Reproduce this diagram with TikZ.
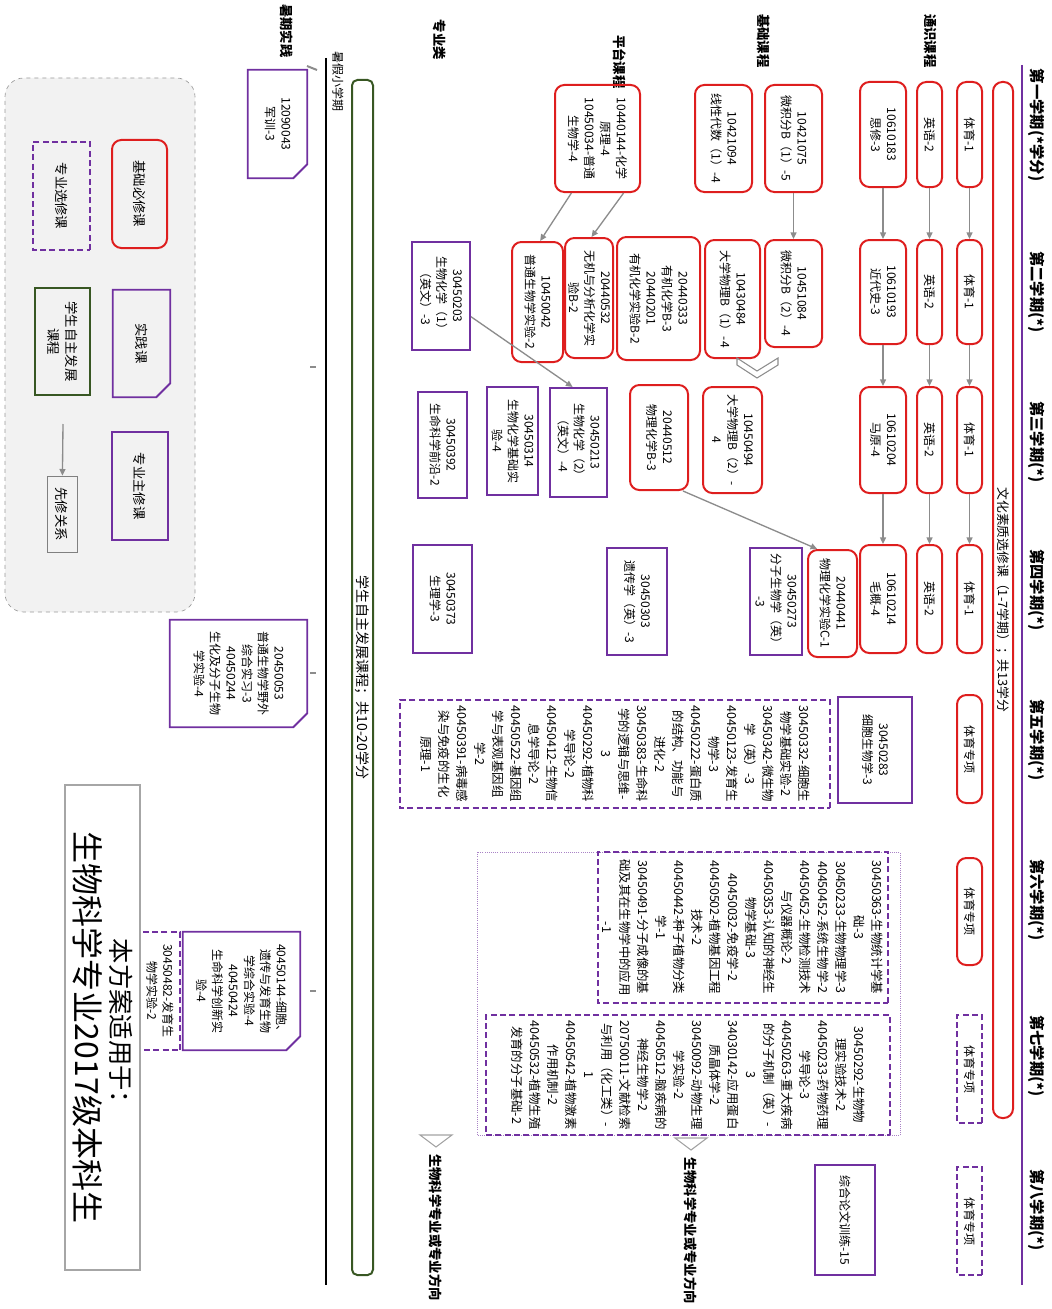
\documentclass[tikz,border=0pt]{standalone}
\usepackage{fontspec}
\setmainfont{Noto Sans CJK SC}
\usetikzlibrary{arrows.meta,calc}
\definecolor{cred}{RGB}{222,30,30}
\definecolor{cpur}{RGB}{112,48,160}
\definecolor{cgrn}{RGB}{56,87,35}
\definecolor{cgray}{RGB}{140,140,140}
\newcommand\bxnode[7]{\node[#1, minimum width={(#4-#3)*0.75pt}, minimum height={(#6-#5)*0.75pt}] (#2) at ({(#3+#4)/2},{(#5+#6)/2}) {#7};}
\newcommand\snipit[1]{\draw[cpur, line width=1.4pt] (#1.south west) -- (#1.south east) -- ($(#1.north east)+(0,-14)$) -- ($(#1.north east)+(-14,0)$) -- (#1.north west) -- cycle;}
\tikzset{
  every node/.style={inner sep=1.5pt},
  txt/.style={align=center, font=\fontsize{9}{12}\selectfont},
  lst/.style={align=center, font=\fontsize{9.3}{13.5}\selectfont},
  redbox/.style={txt, draw=cred, line width=1.5pt, rounded corners=7pt},
  purbox/.style={txt, draw=cpur, line width=1.5pt},
  dashbox/.style={txt, draw=cpur, line width=1.3pt, dash pattern=on 4.5pt off 2.5pt},
  snipbox/.style={txt},
  grnbox/.style={txt, draw=cgrn, line width=2pt},
  garrow/.style={draw=cgray, line width=1pt, -{Triangle[width=4.5pt,length=5pt]}},
  hdr/.style={font=\bfseries\fontsize{11.5}{13}\selectfont},
  lab/.style={font=\bfseries\fontsize{10}{12}\selectfont},
  leg/.style={txt, font=\fontsize{10}{13}\selectfont},
}
\begin{document}
\begin{tikzpicture}[x=0.75pt,y=0.75pt,rotate=-90,transform shape]
\useasboundingbox (0,0) rectangle (1309,1051);

% ---------- header ----------
\node[hdr] (s1) at (125,1037) {第一学期(*学分)};
\node[hdr] (s2) at (292,1037) {第二学期(*)};
\node[hdr] (s3) at (442,1037) {第三学期(*)};
\node[hdr] (s4) at (590,1037) {第四学期(*)};
\node[hdr] (s5) at (740,1037) {第五学期(*)};
\node[hdr] (s6) at (900,1037) {第六学期(*)};
\node[hdr] (s7) at (1056,1037) {第七学期(*)};
\node[hdr] (s8) at (1210,1037) {第八学期(*)};
\coordinate (hl1) at (65,1022);
\coordinate (hl2) at (1285,1022);
\draw[cpur, line width=2.2pt] (hl1) -- (hl2);

% ---------- row labels ----------
\node[lab] (l1) at (41,931) {通识课程};
\node[lab] (l2) at (41,764) {基础课程};
\node[lab] (l3) at (62,620) {平台课程};
\node[lab] (l4) at (40,440) {专业类};
\node[lab] (l5) at (31,287) {暑期实践};

% ---------- culture electives ----------
\bxnode{redbox, font=\fontsize{9.6}{11}\selectfont, inner sep=0pt}{cult}{82}{1118}{993}{1013}{文化素质选修课（1-7学期）；共13学分}

% ---------- PE ----------
\bxnode{redbox}{pe1}{82}{187}{957}{982}{体育-1}
\bxnode{redbox}{pe2}{240}{344}{957}{982}{体育-1}
\bxnode{redbox}{pe3}{387}{493}{957}{982}{体育-1}
\bxnode{redbox}{pe4}{545}{653}{957}{982}{体育-1}
\bxnode{redbox}{pe5}{695}{803}{957}{982}{体育专项}
\bxnode{redbox}{pe6}{858}{965}{957}{982}{体育专项}
\bxnode{dashbox}{pe7}{1015}{1123}{957}{982}{体育专项}
\bxnode{dashbox}{pe8}{1167}{1275}{957}{982}{体育专项}
\draw[garrow] (pe1) -- (pe2);
\draw[garrow] (pe2) -- (pe3);
\draw[garrow] (pe3) -- (pe4);

% ---------- English ----------
\bxnode{redbox}{en1}{82}{187}{917}{942}{英语-2}
\bxnode{redbox}{en2}{240}{344}{917}{942}{英语-2}
\bxnode{redbox}{en3}{387}{493}{917}{942}{英语-2}
\bxnode{redbox}{en4}{545}{653}{917}{942}{英语-2}
\draw[garrow] (en1) -- (en2);
\draw[garrow] (en2) -- (en3);
\draw[garrow] (en3) -- (en4);

% ---------- politics ----------
\bxnode{redbox}{po1}{82}{187}{860}{906}{10610183\\思修-3}
\bxnode{redbox}{po2}{240}{344}{860}{906}{10610193\\近代史-3}
\bxnode{redbox}{po3}{387}{493}{860}{906}{10610204\\马原-4}
\bxnode{redbox}{po4}{545}{653}{860}{906}{10610214\\毛概-4}
\draw[garrow] (po1) -- (po2);
\draw[garrow] (po2) -- (po3);
\draw[garrow] (po3) -- (po4);

% ---------- basic courses ----------
\bxnode{redbox}{calc1}{85}{192}{765}{822}{10421075\\微积分B（1）-5}
\bxnode{redbox}{linalg}{85}{192}{695}{752}{10421094\\线性代数（1）-4}
\bxnode{redbox}{calc2}{240}{347}{765}{822}{10451084\\微积分B（2）-4}
\bxnode{redbox}{phys1}{240}{358}{705}{760}{10430484\\大学物理B（1）-4}
\bxnode{redbox}{orgch}{237}{360}{617}{700}{20440333\\有机化学B-3\\20440201\\有机化学实验B-2}
\bxnode{redbox}{inorg}{238}{358}{565}{613}{20440532\\无机与分析化学实\\验B-2}
\bxnode{redbox}{biolab}{242}{362}{512}{563}{10450042\\普通生物学实验-2}
\bxnode{redbox}{chempr}{85}{192}{555}{640}{10440144-化学\\原理-4\\10450034-普通\\生物学-4}
\bxnode{redbox}{phys2}{387}{493}{703}{762}{10450494\\大学物理B（2）-\\4}
\bxnode{redbox}{pchem}{385}{490}{630}{688}{20440512\\物理化学B-3}
\bxnode{redbox}{pclab}{550}{657}{808}{857}{20440441\\物理化学实验C-1}
\draw[garrow] (calc1) -- (calc2);
\draw[garrow] ($(chempr.north east)!0.2!(chempr.south east)$) -- ($(inorg.north west)!0.45!(inorg.south west)$);
\draw[garrow] ($(chempr.north east)!0.8!(chempr.south east)$) -- ($(biolab.north west)!0.45!(biolab.south west)$);
\draw[garrow] ($(pchem.north east)!0.1!(pchem.south east)$) -- ($(pclab.north west)!0.8!(pclab.south west)$);
\draw[cgray, line width=0.8pt] (358,778) -- (371,757) -- (358,737) -- (365,737) -- (378,757) -- (365,778) -- cycle;

% ---------- professional ----------
\bxnode{purbox}{bc1}{242}{350}{412}{470}{30450203\\生物化学（1）\\（英文）-3}
\bxnode{purbox}{bc2}{388}{497}{550}{607}{30450213\\生物化学（2）\\（英文）-4}
\bxnode{purbox}{bclab}{387}{495}{487}{538}{30450314\\生物化学基础实\\验-4}
\bxnode{purbox}{front}{392}{498}{418}{467}{30450392\\生命科学前沿-2}
\bxnode{purbox}{molbio}{548}{655}{750}{802}{30450273\\分子生物学（英）\\-3}
\bxnode{purbox}{genet}{548}{655}{607}{667}{30450303\\遗传学（英）-3}
\bxnode{purbox}{physio}{545}{653}{413}{472}{30450373\\生理学-3}
\bxnode{purbox}{cellbio}{697}{803}{838}{912}{30450283\\细胞生物学-3}
\bxnode{purbox}{thesis}{1165}{1275}{815}{875}{综合论文训练-15}
\draw[garrow] (bc1) -- ($(bc2.north west)!0.6!(bc2.south west)$);

% ---------- electives ----------
\bxnode{dashbox,lst}{el5}{700}{808}{400}{830}{30450332-细胞生\\物学基础实验-2\\30450342-微生物\\学（英）-3\\40450123-发育生\\物学-3\\40450222-蛋白质\\的结构、功能与\\进化-2\\30450383-生命科\\学的逻辑与思维-\\3\\40450292-植物科\\学导论-2\\40450412-生物信\\息学导论-2\\40450522-基因组\\学与表观基因组\\学-2\\40450391-病毒感\\染与免疫的生化\\原理-1}
\bxnode{draw=cpur!60, densely dotted, line width=0.6pt}{elout}{852}{1135}{477}{900}{}
\bxnode{dashbox,lst}{el6}{852}{1003}{598}{888}{30450363-生物统计学基\\础-3\\30450233-生物物理学-3\\40450452-系统生物学-2\\40450452-生物检测技术\\与仪器概论-2\\40450353-认知的神经生\\物学基础-3\\40450032-免疫学-2\\40450502-植物基因工程\\技术-2\\40450442-种子植物分类\\学-1\\30450491-分子成像的基\\础及其在生物学中的应用\\-1}
\bxnode{dashbox,lst}{el7}{1015}{1135}{486}{890}{30450292-生物物\\理实验技术-2\\40450233-药物药理\\学导论-3\\40450263-重大疾病\\的分子机制（英）-\\3\\34030142-应用蛋白\\质晶体学-2\\30450092-动物生理\\学实验-2\\40450512-脑疾病的\\神经生物学-2\\20750011-文献检索\\与利用（化工类）-\\1\\40450542-植物激素\\作用机制-2\\40450532-植物生殖\\发育的分子基础-2}

% ---------- direction labels ----------
\draw[cgray!80, line width=0.8pt] (1138,675) -- (1150,691) -- (1138,707) -- cycle;
\node[lab, anchor=west] (dir1) at (1155,691) {生物科学专业或专业方向};
\draw[cgray!80, line width=0.8pt] (1135,420) -- (1147,436) -- (1135,452) -- cycle;
\node[lab, anchor=west] (dir2) at (1152,436) {生物科学专业或专业方向};

% ---------- summer / self development ----------
\node[font=\fontsize{9}{11}\selectfont] (sum) at (82,338) {暑假小学期};
\coordinate (bl1) at (58,326);
\coordinate (bl2) at (1285,326);
\draw[black, line width=1pt] (bl1) -- (bl2);
\bxnode{draw=cgrn, line width=1.5pt, rounded corners=4pt, font=\fontsize{10.5}{12}\selectfont, inner sep=0pt}{self}{80}{1275}{352}{373}{学生自主发展课程；共10-20学分}

\bxnode{snipbox}{army}{70}{178}{248}{307}{12090043\\军训-3}
\snipit{army}
\bxnode{snipbox}{field}{620}{727}{170}{307}{20450053\\普通生物学野外\\综合实习-3\\40450244\\生化及分子生物\\学实验-4}
\snipit{field}
\bxnode{snipbox}{cellexp}{932}{1050}{183}{300}{40450144-细胞、\\遗传与发育生物\\学综合实验-4\\40450424\\生命科学创新实\\验-4}
\snipit{cellexp}
\bxnode{dashbox}{devlab}{932}{1050}{140}{180}{30450482-发育生\\物学实验-2}
\draw[cgray, line width=1.5pt] (66,307) -- (70,317);
\draw[cgray, line width=2pt] (367,310) -- (367,316);
\draw[cgray, line width=2pt] (673,310) -- (673,316);
\draw[cgray, line width=2pt] (991,310) -- (991,316);

% ---------- title ----------
\bxnode{draw=black!35, line width=0.8pt, align=center, font=\fontsize{24}{27}\selectfont}{title}{785}{1270}{65}{140}{{\fontsize{19}{27}\selectfont 本方案适用于：}\\生物科学专业2017级本科生}

% ---------- legend ----------
\bxnode{fill=black!5, draw=black!40, dashed, line width=0.5pt, rounded corners=14pt}{legbg}{78}{612}{5}{195}{}
\bxnode{redbox,leg}{lg1}{140}{248}{112}{167}{基础必修课}
\bxnode{dashbox,leg}{lg2}{142}{250}{33}{90}{专业选修课}
\bxnode{snipbox,leg}{lg3}{290}{397}{113}{170}{实践课}
\snipit{lg3}
\bxnode{grnbox,leg}{lg4}{288}{395}{35}{90}{学生自主发展\\课程}
\bxnode{purbox,leg}{lg5}{432}{540}{112}{168}{专业主修课}
\coordinate (la) at (424,63);
\bxnode{draw=black!50, line width=0.5pt, leg}{prq}{476}{552}{47}{77}{先修关系}
\draw[garrow] (la) -- (prq);
\end{tikzpicture}
\end{document}
